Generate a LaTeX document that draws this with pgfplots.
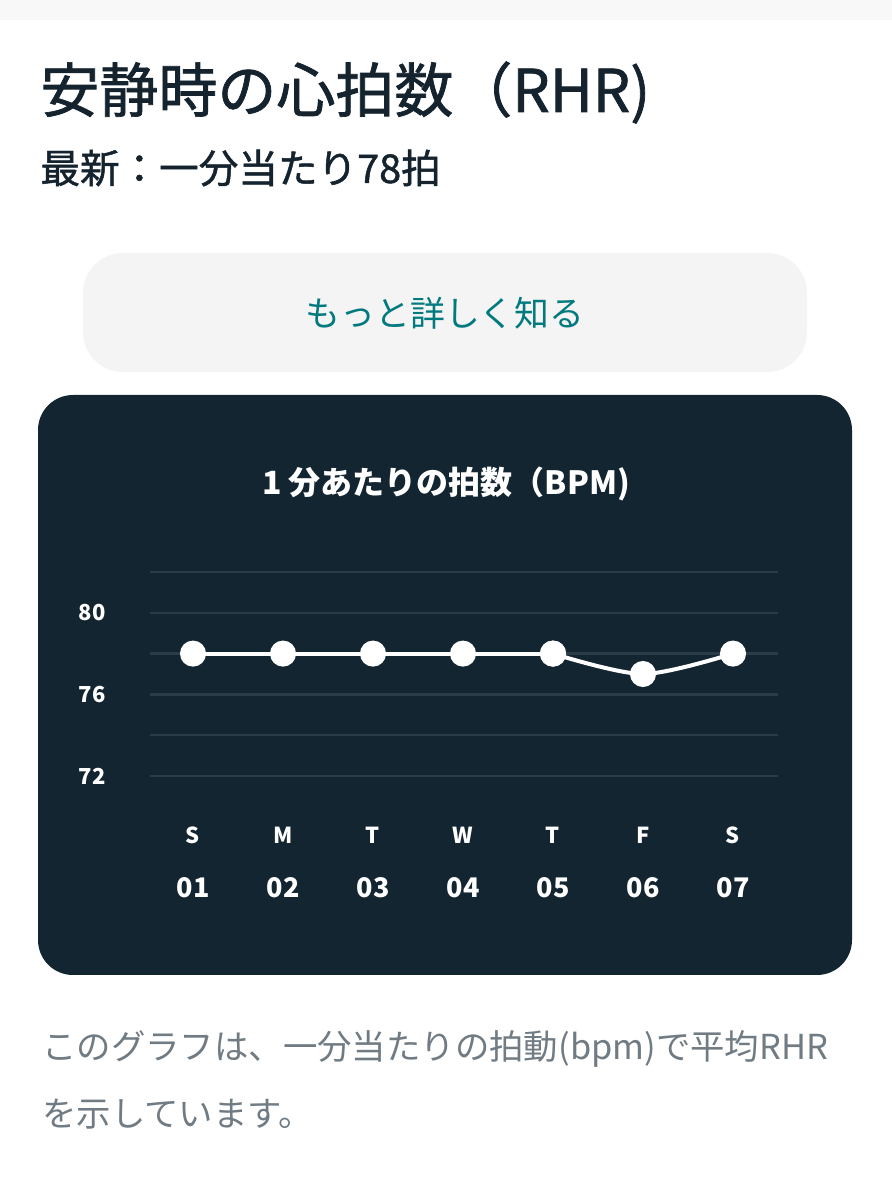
\documentclass[border=0pt]{standalone}
\usepackage{fontspec}
\setmainfont{Noto Sans CJK JP}
\newfontfamily\medfont{Noto Sans CJK JP}[FakeBold=1.2]
\usepackage{pgfplots}
\pgfplotsset{compat=1.18}
\definecolor{navy}{HTML}{14232E}
\definecolor{teal2}{HTML}{00797F}
\definecolor{panel}{HTML}{132530}
\definecolor{gridc}{HTML}{2B3C47}
\definecolor{graytxt}{HTML}{707B83}
\definecolor{btn}{HTML}{F4F4F4}
\definecolor{topbar}{HTML}{F8F8F8}
\begin{document}
\begin{tikzpicture}[x=0.5pt,y=0.5pt]
\fill[white] (0,0) rectangle (892,1200);
\fill[topbar] (0,1180) rectangle (892,1200);
\fill[btn, rounded corners=20pt] (83,828) rectangle (807,947);
\fill[panel, rounded corners=17.5pt] (38,225) rectangle (852,805);
\node[anchor=base west, inner sep=0pt, text=navy, font=\medfont\fontsize{29.5}{34}\selectfont] at (40,1088) {安静時の心拍数（RHR)};
\node[anchor=base west, inner sep=0pt, text=navy, font=\medfont\fontsize{19.8}{23}\selectfont] at (40,1017) {最新：一分当たり78拍};
\node[anchor=center, inner sep=0pt, text=teal2, font=\fontsize{17.4}{20}\selectfont] at (445,887) {もっと詳しく知る};
\node[anchor=center, inner sep=0pt, text=white, font=\bfseries\fontsize{16}{19}\selectfont] at (446,716) {1 分あたりの拍数（BPM)};
\node[anchor=base west, inner sep=0pt, text=graytxt, font=\fontsize{17.2}{20}\selectfont] at (42,140) {このグラフは、一分当たりの拍動(bpm)で平均RHR};
\node[anchor=base west, inner sep=0pt, text=graytxt, font=\fontsize{17.2}{20}\selectfont] at (42,73) {を示しています。};
\begin{axis}[at={(75pt,212pt)}, anchor=south west, scale only axis,
  width=314pt, height=102pt,
  xmin=0.522, xmax=7.5, ymin=72, ymax=82,
  ytick={72,74,...,82}, yticklabels={72,,76,,80,},
  ymajorgrids, grid style={gridc, line width=1.2pt},
  xtick={1,...,7}, xticklabels={S,M,T,W,T,F,S},
  axis line style={draw=none}, major tick length=0pt,
  /pgf/number format/assume math mode=true,
  yticklabel style={anchor=east, inner sep=0pt, xshift=-22pt, text=white, font=\bfseries\fontsize{11}{13}\selectfont},
  xticklabel style={anchor=center, inner sep=0pt, yshift=-29.5pt, text=white, font=\bfseries\fontsize{11}{13}\selectfont},
  clip=false]
\addplot[white, line width=2pt, mark=*, mark size=5.5pt, mark options={fill=white, draw=white}] coordinates {(1,78) (2,78) (3,78) (4,78) (5,78)};
\addplot[white, line width=2pt, smooth, mark=*, mark size=5.5pt, mark options={fill=white, draw=white}] coordinates {(5,78) (6,77) (7,78)};
\end{axis}
\begin{axis}[at={(75pt,212pt)}, anchor=south west, scale only axis,
  width=314pt, height=102pt,
  xmin=0.522, xmax=7.5, ymin=72, ymax=82,
  ytick=\empty,
  xtick={1,...,7}, xticklabels={01,02,03,04,05,06,07},
  axis line style={draw=none}, major tick length=0pt,
  /pgf/number format/assume math mode=true,
  xticklabel style={anchor=center, inner sep=0pt, yshift=-56pt, text=white, font=\bfseries\fontsize{13.5}{16}\selectfont}]
\addplot[draw=none] coordinates {(1,78)};
\end{axis}
\end{tikzpicture}
\end{document}
